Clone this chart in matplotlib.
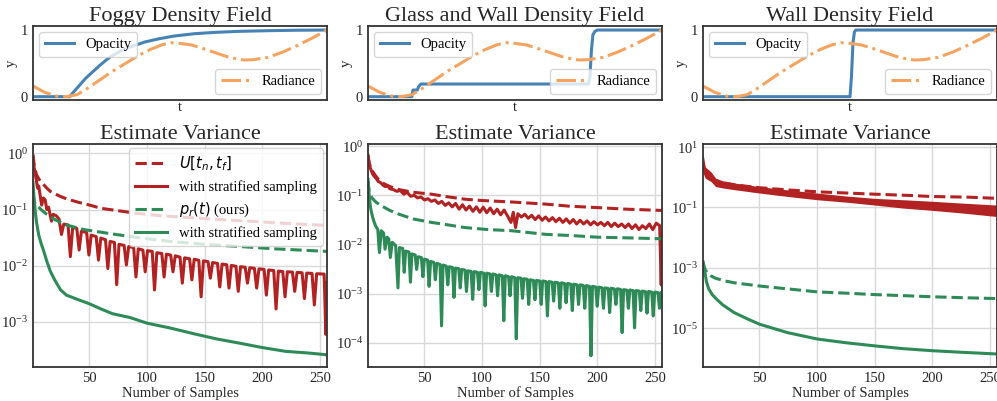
import matplotlib
matplotlib.use("Agg")
import matplotlib.pyplot as plt
import numpy as np

# ---- top row: density fields along the ray -------------------------------
titles_top = ["Foggy Density Field", "Glass and Wall Density Field", "Wall Density Field"]

rad_t = [0, 0.04, 0.08, 0.10, 0.12, 0.15, 0.18, 0.21, 0.24, 0.27, 0.30, 0.33, 0.36,
         0.40, 0.44, 0.47, 0.50, 0.54, 0.58, 0.62, 0.66, 0.70, 0.72, 0.75, 0.80,
         0.85, 0.90, 0.95, 1.0]
rad_v = [0.16, 0.065, 0.01, 0.0, 0.005, 0.03, 0.11, 0.20, 0.29, 0.38, 0.46, 0.54, 0.62,
         0.71, 0.78, 0.81, 0.80, 0.775, 0.72, 0.66, 0.60, 0.56, 0.55, 0.555, 0.59,
         0.67, 0.77, 0.88, 1.0]

fog_t = [0, 0.125, 0.14, 0.16, 0.18, 0.20, 0.23, 0.26, 0.30, 0.34, 0.38, 0.43, 0.48,
         0.55, 0.62, 0.70, 0.80, 0.90, 1.0]
fog_v = [0, 0, 0.08, 0.18, 0.28, 0.36, 0.48, 0.59, 0.69, 0.76, 0.82, 0.87, 0.91,
         0.945, 0.965, 0.98, 0.99, 0.997, 1.0]

glass_t = [0, 0.149, 0.153, 0.168, 0.172, 0.18, 0.75, 0.755, 0.76, 0.765, 0.772, 0.78, 1.0]
glass_v = [0, 0, 0.10, 0.10, 0.15, 0.19, 0.19, 0.30, 0.70, 0.93, 0.98, 1.0, 1.0]

wall_t = [0, 0.50, 0.505, 0.51, 0.515, 0.52, 1.0]
wall_v = [0, 0, 0.30, 0.80, 0.97, 1.0, 1.0]

# ---- bottom row: estimate variance vs number of samples -------------------
# foggy
fog_u_s = [1, 2, 3, 4, 6, 8, 10, 13, 16, 20, 25, 30, 40, 50, 60, 75, 90, 110, 130,
           150, 175, 200, 225, 256]
fog_u_v = [0.95, 0.62, 0.50, 0.42, 0.35, 0.31, 0.28, 0.24, 0.21, 0.19, 0.17, 0.155,
           0.135, 0.12, 0.105, 0.095, 0.086, 0.078, 0.073, 0.069, 0.064, 0.060,
           0.056, 0.052]
fog_u_strat = [
    (1, 0.85), (2, 0.55), (3, 0.42), (4, 0.32), (5, 0.24), (6, 0.26), (7, 0.19),
    (8.5, 0.12), (10, 0.16), (11.5, 0.15), (13, 0.10), (14.5, 0.11), (17, 0.062),
    (18.5, 0.082), (21, 0.078), (23.5, 0.068), (25.7, 0.036),
    (27.7, 0.055), (31.4, 0.053), (33.4, 0.0145),
    (35.4, 0.048), (39.0, 0.046), (41.0, 0.019),
    (43.0, 0.041), (47.5, 0.039), (49.5, 0.0155),
    (51.5, 0.035), (55.8, 0.033), (57.8, 0.0126),
    (59.8, 0.031), (63.9, 0.029), (65.9, 0.0089),
    (67.9, 0.027), (71.6, 0.026), (73.6, 0.0046),
    (75.6, 0.024), (80.0, 0.023), (82.0, 0.0103),
    (84.0, 0.022), (88.3, 0.021), (90.3, 0.0063),
    (92.3, 0.020), (96.3, 0.019), (98.3, 0.0078),
    (100.3, 0.0185), (104.4, 0.018), (106.4, 0.0037),
    (108.4, 0.017), (112.7, 0.0165), (114.7, 0.0063),
    (116.7, 0.016), (120.4, 0.0155), (122.4, 0.0078),
    (124.4, 0.015), (128.5, 0.0142), (130.5, 0.0049),
    (132.5, 0.0138), (136.8, 0.0133), (138.8, 0.0056),
    (140.8, 0.013), (144.8, 0.0125), (146.8, 0.0028),
    (148.8, 0.0122), (152.8, 0.0118), (154.8, 0.006),
    (156.8, 0.0114), (161.0, 0.011), (163.0, 0.0042),
    (165.0, 0.0107), (169.0, 0.0104), (171.0, 0.004),
    (173.0, 0.0101), (177.0, 0.0098), (179.0, 0.0035),
    (181.0, 0.0096), (185.0, 0.0094), (187.0, 0.0049),
    (189.0, 0.0092), (193.0, 0.009), (195.0, 0.004),
    (197.0, 0.0088), (201.4, 0.0086), (203.4, 0.003),
    (205.4, 0.0084), (209.8, 0.0082), (211.8, 0.0017),
    (213.8, 0.008), (217.6, 0.0079), (219.6, 0.0028),
    (221.6, 0.0078), (226.0, 0.0077), (228.0, 0.0035),
    (230.0, 0.0076), (234.4, 0.0075), (236.4, 0.0026),
    (238.4, 0.0074), (243.0, 0.0073), (245.0, 0.002),
    (247.0, 0.0072), (253.5, 0.0071), (255.0, 0.0006), (256, 0.005),
]
fog_p_s = [1, 2, 3, 5, 8, 12, 20, 30, 45, 65, 90, 120, 150, 180, 210, 256]
fog_p_v = [0.20, 0.14, 0.125, 0.115, 0.10, 0.085, 0.066, 0.053, 0.044, 0.038, 0.032,
           0.027, 0.024, 0.022, 0.020, 0.018]
fog_p_strat_s = [1, 2, 3, 4, 6, 8, 10, 13, 16, 20, 25, 30, 40, 50, 60, 70, 85, 100,
                 120, 140, 160, 180, 200, 220, 240, 256]
fog_p_strat_v = [0.30, 0.15, 0.09, 0.06, 0.035, 0.025, 0.019, 0.012, 0.008, 0.0055,
                 0.0037, 0.003, 0.0025, 0.0021, 0.0017, 0.0014, 0.0012, 0.00095,
                 0.00078, 0.00062, 0.0005, 0.00042, 0.00035, 0.0003, 0.00028, 0.00026]

# glass and wall
glass_u_s = [1, 2, 4, 7, 10, 15, 20, 28, 40, 56, 70, 85, 100, 125, 155, 175, 200, 225, 256]
glass_u_v = [0.65, 0.45, 0.33, 0.26, 0.21, 0.17, 0.15, 0.13, 0.115, 0.105, 0.093, 0.083,
             0.078, 0.073, 0.066, 0.060, 0.056, 0.052, 0.049]
glass_u_strat = [
    (1, 0.65), (2, 0.45), (3, 0.36), (4, 0.31), (5, 0.27), (6, 0.25), (8, 0.22),
    (10, 0.19), (12, 0.18), (14, 0.16), (16, 0.15), (18, 0.155), (20, 0.135),
    (23, 0.13), (26, 0.12), (29, 0.125), (32, 0.105), (35, 0.115), (38, 0.095),
    (41, 0.10), (44, 0.088), (47, 0.092), (50, 0.080), (53, 0.085), (56, 0.075),
    (59, 0.080), (62, 0.068), (65, 0.075), (68, 0.062), (71, 0.070), (74, 0.058),
    (77, 0.068), (80, 0.052), (83, 0.064), (86, 0.050), (89, 0.060), (92, 0.047),
    (95, 0.058), (98, 0.045), (101, 0.057), (104, 0.044), (107, 0.055), (110, 0.042),
    (113, 0.052), (116, 0.040), (119, 0.050), (122, 0.038), (125, 0.028), (127, 0.045),
    (129, 0.022), (131, 0.042), (134, 0.036), (137, 0.041), (140, 0.034), (143, 0.039),
    (146, 0.032), (149, 0.038), (152, 0.031), (155, 0.036), (158, 0.030), (161, 0.035),
    (164, 0.029), (167, 0.034), (170, 0.028), (173, 0.033), (176, 0.027), (179, 0.032),
    (182, 0.026), (185, 0.031), (188, 0.026), (191, 0.030), (194, 0.025), (197, 0.029),
    (200, 0.025), (203, 0.028), (206, 0.024), (209, 0.028), (212, 0.023), (215, 0.027),
    (218, 0.023), (221, 0.026), (224, 0.022), (227, 0.026), (230, 0.021), (233, 0.025),
    (236, 0.020), (239, 0.024), (242, 0.021), (245, 0.026), (248, 0.020), (251, 0.027),
    (254, 0.024), (255.3, 0.0015), (256, 0.017),
]
glass_p_s = [1, 2, 3, 5, 8, 12, 20, 28, 40, 56, 70, 85, 105, 125, 155, 180, 200, 230, 256]
glass_p_v = [0.20, 0.12, 0.10, 0.085, 0.072, 0.062, 0.049, 0.041, 0.033, 0.028, 0.025,
             0.022, 0.020, 0.019, 0.016, 0.015, 0.014, 0.0135, 0.013]
glass_p_strat = [
    (1, 0.21), (2, 0.10), (3, 0.06), (4, 0.045), (5, 0.036), (6, 0.030), (7.5, 0.024),
    (9.5, 0.020), (10.9, 0.0068), (12.5, 0.019), (14.5, 0.017), (15.8, 0.008),
    (17.5, 0.014), (19.0, 0.013), (20.4, 0.0054), (22.0, 0.011), (25.0, 0.0095),
    (27.0, 0.0013), (28.3, 0.0086), (31.1, 0.0083),
    (32.4, 0.0027), (33.7, 0.0073), (36.5, 0.0070),
    (37.8, 0.0017), (39.1, 0.0064), (41.9, 0.0061),
    (43.2, 0.0031), (44.5, 0.0056), (47.3, 0.0054),
    (48.6, 0.0022), (49.9, 0.0050), (52.7, 0.0048),
    (54.0, 0.0014), (55.3, 0.0045), (58.1, 0.0043),
    (59.4, 0.0019), (60.7, 0.0041), (63.5, 0.0039),
    (64.8, 0.00022), (66.1, 0.0038), (68.9, 0.0036),
    (70.2, 0.0015), (71.5, 0.0035), (74.3, 0.0034),
    (75.6, 0.00083), (76.9, 0.0033), (79.7, 0.0032),
    (81.0, 0.0013), (82.3, 0.0031), (85.1, 0.0030),
    (86.4, 0.0011), (87.7, 0.0029), (90.5, 0.0028),
    (91.8, 0.00076), (93.1, 0.0028), (95.9, 0.0027),
    (97.2, 0.0012), (98.5, 0.0027), (101.3, 0.0026),
    (102.6, 0.00056), (103.9, 0.0026), (106.7, 0.0025),
    (108.0, 0.0011), (109.3, 0.0025), (112.1, 0.0024),
    (113.4, 0.0009), (114.7, 0.0024), (117.5, 0.0023),
    (118.8, 0.00028), (120.1, 0.0023), (122.9, 0.0022),
    (124.2, 0.0009), (125.5, 0.0022), (128.3, 0.0021),
    (129.6, 0.00012), (130.9, 0.0021), (133.7, 0.00205),
    (135.0, 0.0008), (136.3, 0.0020), (139.1, 0.00195),
    (140.4, 0.0006), (141.7, 0.0019), (144.5, 0.00185),
    (145.8, 0.00075), (147.1, 0.00185), (149.9, 0.0018),
    (151.2, 0.0006), (152.5, 0.0018), (155.3, 0.00175),
    (156.6, 0.00035), (157.9, 0.00175), (160.7, 0.0017),
    (162.0, 0.0007), (163.3, 0.0017), (166.1, 0.00165),
    (167.4, 0.0005), (168.7, 0.00165), (171.5, 0.0016),
    (172.8, 0.00065), (174.1, 0.0016), (176.9, 0.00155),
    (178.2, 0.00045), (179.5, 0.00155), (182.3, 0.0015),
    (183.6, 0.0006), (184.9, 0.0015), (187.7, 0.00146),
    (189.0, 0.0005), (190.3, 0.00145), (193.1, 0.0014),
    (194.4, 0.000054), (195.7, 0.0014), (198.5, 0.00136),
    (199.8, 0.00055), (201.1, 0.00135), (203.9, 0.00131),
    (205.2, 0.0005), (206.5, 0.0013), (209.3, 0.00127),
    (210.6, 0.00041), (211.9, 0.00128), (214.7, 0.00124),
    (216.0, 0.0006), (217.3, 0.00125), (220.1, 0.00121),
    (221.4, 0.00016), (222.7, 0.0012), (225.5, 0.00117),
    (226.8, 0.0005), (228.1, 0.00118), (230.9, 0.00115),
    (232.2, 0.0002), (233.5, 0.00115), (236.3, 0.00112),
    (237.6, 0.00045), (238.9, 0.00112), (241.7, 0.00109),
    (243.0, 0.0004), (244.3, 0.0011), (247.1, 0.00107),
    (248.4, 0.00035), (249.7, 0.00107), (252.5, 0.00104),
    (253.8, 0.0005), (255.0, 0.00105), (256, 0.0008),
]

# wall
wall_u_s = [1, 2, 4, 8, 15, 30, 50, 75, 100, 117, 150, 180, 200, 230, 256]
wall_u_v = [3.0, 1.8, 1.2, 0.9, 0.7, 0.55, 0.45, 0.38, 0.33, 0.31, 0.275, 0.25,
            0.23, 0.22, 0.20]
wall_strat_s = [1, 3, 8, 12, 20, 30, 50, 75, 100, 125, 150, 175, 200, 225, 256]
wall_strat_hi = [6.2, 2.2, 1.5, 0.93, 0.72, 0.63, 0.49, 0.38, 0.30, 0.24, 0.20,
                 0.18, 0.16, 0.14, 0.12]
wall_strat_lo = [1.4, 0.93, 0.72, 0.49, 0.43, 0.38, 0.30, 0.23, 0.18, 0.15, 0.12,
                 0.095, 0.08, 0.066, 0.05]
wall_p_s = [1, 2, 3, 5, 8, 12, 20, 28, 40, 50, 75, 100, 125, 150, 175, 200, 225, 256]
wall_p_v = [1.6e-3, 1.1e-3, 8.5e-4, 6.8e-4, 5.4e-4, 4.5e-4, 3.7e-4, 3.2e-4, 2.8e-4,
            2.5e-4, 2.0e-4, 1.6e-4, 1.45e-4, 1.3e-4, 1.2e-4, 1.1e-4, 1.03e-4, 9.6e-5]
wall_p_strat_s = [1, 2, 3, 4, 6, 9, 13, 18, 28, 40, 50, 74, 100, 125, 150, 175, 200,
                  225, 256]
wall_p_strat_v = [1.6e-3, 9e-4, 6e-4, 3.5e-4, 2e-4, 1.3e-4, 9e-5, 6e-5, 3.3e-5, 2e-5,
                  1.36e-5, 7.2e-6, 4.4e-6, 3.3e-6, 2.6e-6, 2.1e-6, 1.8e-6, 1.6e-6, 1.4e-6]

RED = "#b22222"
GREEN = "#2e8b57"
BLUE = "#4682b4"
ORANGE = "#f4a460"

plt.rcParams.update({
    "font.family": "serif",
    "font.serif": ["Liberation Serif", "DejaVu Serif"],
    "font.size": 10.5,
    "axes.edgecolor": "#333333",
    "axes.linewidth": 1.3,
    "axes.titlesize": 16,
    "axes.titlecolor": "#262626",
    "axes.labelcolor": "#262626",
    "xtick.color": "#262626",
    "ytick.color": "#262626",
    "xtick.major.size": 0,
    "ytick.major.size": 0,
    "xtick.minor.size": 0,
    "ytick.minor.size": 0,
    "legend.edgecolor": "#cccccc",
    "legend.framealpha": 0.8,
    "grid.color": "#d9d9d9",
    "grid.linewidth": 1.0,
})

fig = plt.figure(figsize=(9.97, 4.01), dpi=100)
lefts = [0.0331, 0.3691, 0.7051]
width = 0.2949

opacities = [(fog_t, fog_v), (glass_t, glass_v), (wall_t, wall_v)]
for i, left in enumerate(lefts):
    ax = fig.add_axes([left, 0.7506, width, 0.1845])
    ot, ov = opacities[i]
    l1, = ax.plot(ot, ov, color=BLUE, lw=2.2)
    l2, = ax.plot(rad_t, rad_v, color=ORANGE, lw=2.2, ls="-.")
    ax.set_xlim(0, 1)
    ax.set_ylim(-0.05, 1.06)
    ax.set_xticks([])
    ax.set_yticks([0, 1])
    ax.set_xlabel("t", labelpad=1)
    ax.set_ylabel("y", labelpad=2)
    ax.set_title(titles_top[i], pad=3)
    leg1 = ax.legend([l1], ["Opacity"], loc="upper left", borderaxespad=0.4)
    ax.add_artist(leg1)
    ax.legend([l2], ["Radiance"], loc="lower right", borderaxespad=0.4)

ylims = [(1.58e-4, 1.46), (3.2e-5, 1.1), (5.2e-7, 12.6)]
yticks = [[1, 1e-1, 1e-2, 1e-3], [1, 1e-1, 1e-2, 1e-3, 1e-4], [1e1, 1e-1, 1e-3, 1e-5]]
for i, left in enumerate(lefts):
    ax = fig.add_axes([left, 0.0848, width, 0.556])
    ax.set_yscale("log")
    ax.grid(True, which="major")
    ax.set_axisbelow(True)
    if i == 0:
        ax.plot(fog_u_s, fog_u_v, color=RED, lw=2.2, ls="--", label="$U[t_n, t_f]$")
        ax.plot(*zip(*fog_u_strat), color=RED, lw=2.2, label="with stratified sampling")
        ax.plot(fog_p_s, fog_p_v, color=GREEN, lw=2.2, ls="--", label="$p_r(t)$ (ours)")
        ax.plot(fog_p_strat_s, fog_p_strat_v, color=GREEN, lw=2.2,
                label="with stratified sampling")
        ax.legend(loc="upper right", borderaxespad=0.3, handlelength=2.2)
    elif i == 1:
        ax.plot(glass_u_s, glass_u_v, color=RED, lw=2.2, ls="--")
        ax.plot(*zip(*glass_u_strat), color=RED, lw=2.2)
        ax.plot(glass_p_s, glass_p_v, color=GREEN, lw=2.2, ls="--")
        ax.plot(*zip(*glass_p_strat), color=GREEN, lw=2.2)
    else:
        ax.fill_between(wall_strat_s, wall_strat_lo, wall_strat_hi, color=RED, lw=0)
        ax.plot(wall_u_s, wall_u_v, color=RED, lw=2.2, ls="--")
        ax.plot(wall_p_s, wall_p_v, color=GREEN, lw=2.2, ls="--")
        ax.plot(wall_p_strat_s, wall_p_strat_v, color=GREEN, lw=2.2)
    ax.set_xlim(1, 256)
    ax.set_ylim(*ylims[i])
    ax.set_xticks([50, 100, 150, 200, 250])
    ax.set_yticks(yticks[i])
    ax.yaxis.set_minor_locator(matplotlib.ticker.NullLocator())
    ax.set_xlabel("Number of Samples", labelpad=1)
    ax.set_title("Estimate Variance", pad=3)

fig.savefig("out.png", dpi=100)
